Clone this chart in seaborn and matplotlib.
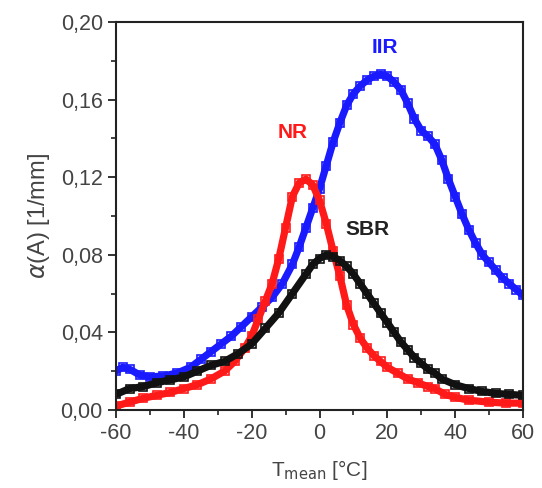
import matplotlib
matplotlib.use('Agg')
import matplotlib.pyplot as plt
import matplotlib.ticker as mticker
import seaborn as sns
import pandas as pd

# values
iir_t = [-60, -58, -56, -53, -50, -46, -42, -38, -35, -32, -29, -26, -23, -20, -17, -14,
         -11, -8, -6, -4, -2, 0, 2, 4, 6, 8, 10, 12, 14, 16, 18, 20, 22, 24, 26, 28, 30,
         32, 34, 36, 38, 40, 42, 44, 46, 48, 50, 52, 54, 56, 58, 60]
iir_a = [0.020, 0.022, 0.021, 0.018, 0.017, 0.0175, 0.019, 0.022, 0.026, 0.030, 0.034,
         0.038, 0.043, 0.048, 0.053, 0.058, 0.065, 0.075, 0.084, 0.094, 0.104, 0.114,
         0.126, 0.138, 0.148, 0.157, 0.163, 0.167, 0.170, 0.172, 0.173, 0.172, 0.169,
         0.165, 0.158, 0.150, 0.144, 0.141, 0.137, 0.129, 0.119, 0.110, 0.101, 0.093,
         0.086, 0.080, 0.076, 0.072, 0.068, 0.065, 0.062, 0.059]

nr_t = [-60, -56, -52, -48, -44, -40, -36, -32, -28, -25, -22, -20, -18, -16, -14, -12,
        -10, -8, -6, -4, -2, 0, 2, 4, 6, 8, 10, 12, 14, 16, 18, 20, 23, 26, 29, 32, 34,
        37, 40, 44, 50, 55, 60]
nr_a = [0.002, 0.004, 0.006, 0.0075, 0.009, 0.011, 0.013, 0.016, 0.020, 0.025, 0.032,
        0.038, 0.047, 0.056, 0.065, 0.078, 0.094, 0.110, 0.117, 0.119, 0.116, 0.108,
        0.096, 0.082, 0.069, 0.054, 0.044, 0.037, 0.032, 0.028, 0.025, 0.022, 0.019,
        0.016, 0.014, 0.012, 0.011, 0.008, 0.0065, 0.005, 0.004, 0.0035, 0.0035]

sbr_t = [-60, -56, -52, -48, -44, -40, -36, -32, -28, -24, -20, -16, -12, -8, -4, -2, 0,
         2, 4, 6, 8, 10, 12, 14, 16, 18, 20, 22, 24, 26, 28, 30, 32, 34, 36, 40, 44, 48,
         52, 56, 60]
sbr_a = [0.008, 0.011, 0.012, 0.014, 0.0155, 0.017, 0.020, 0.023, 0.025, 0.029, 0.034,
         0.042, 0.050, 0.060, 0.070, 0.075, 0.078, 0.080, 0.079, 0.077, 0.074, 0.070,
         0.065, 0.060, 0.055, 0.050, 0.045, 0.040, 0.035, 0.031, 0.027, 0.024, 0.021,
         0.019, 0.016, 0.013, 0.011, 0.0095, 0.0085, 0.008, 0.0075]

series = {'IIR': (iir_t, iir_a), 'NR': (nr_t, nr_a), 'SBR': (sbr_t, sbr_a)}
colors = {'IIR': '#1a1aff', 'NR': '#ff1a1a', 'SBR': '#111111'}

sns.set_style('ticks')
plt.rcParams['font.family'] = ['Liberation Sans', 'DejaVu Sans']
plt.rcParams['axes.unicode_minus'] = False

fig = plt.figure(figsize=(5.42, 4.88), dpi=100)
ax = fig.add_axes([0.214, 0.160, 0.751, 0.795])

for name, (t, a) in series.items():
    df = pd.DataFrame({'T': t, 'a': a})
    sns.lineplot(data=df, x='T', y='a', color=colors[name], linewidth=5.2,
                 marker='s', markersize=5.5, markerfacecolor='none',
                 markeredgecolor=colors[name], markeredgewidth=1.2,
                 ax=ax, sort=False)

ax.set_xlim(-60, 60)
ax.set_ylim(0, 0.20)
ax.set_xticks(range(-60, 61, 20))
ax.set_yticks([0, 0.04, 0.08, 0.12, 0.16, 0.20])
ax.xaxis.set_minor_locator(mticker.MultipleLocator(10))
ax.yaxis.set_minor_locator(mticker.MultipleLocator(0.02))
ax.yaxis.set_major_formatter(mticker.FuncFormatter(lambda v, p: f'{v:.2f}'.replace('.', ',')))

for s in ax.spines.values():
    s.set_visible(True)
    s.set_linewidth(1.5)
    s.set_color('#222222')
ax.tick_params(which='major', direction='out', length=6, width=1.3, labelsize=15.5,
               labelcolor='#444444', color='#222222')
ax.tick_params(which='minor', direction='out', length=3.5, width=1.2, color='#222222')

ax.set_xlabel(r'T$_{\mathrm{mean}}$ [°C]', fontsize=15, color='#444444', labelpad=10)
ax.set_ylabel(r'$\alpha$(A) [1/mm]', fontsize=17, color='#444444', labelpad=6)

ax.text(19.3, 0.1866, 'IIR', color=colors['IIR'], fontsize=15, fontweight='bold',
        ha='center', va='center')
ax.text(-7.8, 0.143, 'NR', color=colors['NR'], fontsize=15, fontweight='bold',
        ha='center', va='center')
ax.text(14, 0.093, 'SBR', color='#222222', fontsize=15, fontweight='bold',
        ha='center', va='center')

fig.savefig('out.png', dpi=100)
